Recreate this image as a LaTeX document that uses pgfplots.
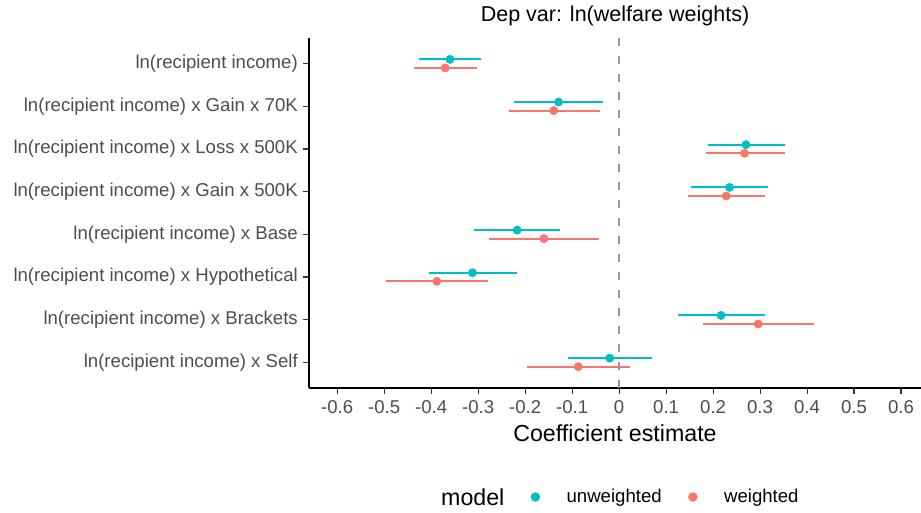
\documentclass[border=0pt]{standalone}
\usepackage{pgfplots}
\pgfplotsset{compat=1.18}
\usepackage{pgfplotstable}
\usepackage{fontspec}
\setmainfont{Liberation Sans}
\definecolor{cU}{HTML}{00BFC4}
\definecolor{cW}{HTML}{F8766D}
\definecolor{tickc}{HTML}{4D4D4D}
\definecolor{axc}{HTML}{333333}
\definecolor{vl}{HTML}{999999}

\pgfplotstableread{
pos est lo hi
8.1 -0.360 -0.426 -0.295
7.1 -0.129 -0.224 -0.034
6.1 0.270 0.189 0.352
5.1 0.235 0.154 0.316
4.1 -0.217 -0.309 -0.125
3.1 -0.312 -0.405 -0.217
2.1 0.217 0.125 0.311
1.1 -0.020 -0.109 0.071
}\unw

\pgfplotstableread{
pos est lo hi
7.9 -0.370 -0.437 -0.302
6.9 -0.139 -0.235 -0.041
5.9 0.267 0.184 0.352
4.9 0.228 0.146 0.311
3.9 -0.160 -0.277 -0.042
2.9 -0.388 -0.496 -0.279
1.9 0.296 0.178 0.414
0.9 -0.087 -0.197 0.023
}\wei

\begin{document}
\begin{tikzpicture}[x=1pt,y=1pt]
\begin{axis}[
  at={(309pt,124pt)}, anchor=south west,
  scale only axis, width=612pt, height=350pt,
  xmin=-0.660, xmax=0.6425, ymin=0.4, ymax=8.6,
  clip=false,
  axis lines=left, axis line style={-, black, line width=1.3pt},
  xtick={-0.6,-0.5,-0.4,-0.3,-0.2,-0.1,0,0.1,0.2,0.3,0.4,0.5,0.6},
  xticklabels={-0.6,-0.5,-0.4,-0.3,-0.2,-0.1,0,0.1,0.2,0.3,0.4,0.5,0.6},
  ytick={1,2,3,4,5,6,7,8},
  yticklabels={{ln(recipient income) x Self},{ln(recipient income) x Brackets},{ln(recipient income) x Hypothetical},{ln(recipient income) x Base},{ln(recipient income) x Gain x 500K},{ln(recipient income) x Loss x 500K},{ln(recipient income) x Gain x 70K},{ln(recipient income)}},
  tick align=outside, major tick length=6pt,
  tick style={axc, line width=1.1pt},
  ticklabel style={font=\fontsize{18.6}{20}\selectfont, text=tickc, inner sep=0pt},
  xticklabel shift=6pt,
  yticklabel shift=5pt,
  title={Dep var: ln(welfare weights)},
  title style={font=\fontsize{21.5}{24}\selectfont, at={(axis description cs:0.5,1)}, anchor=center, yshift=16pt, inner sep=0pt},
  xlabel={Coefficient estimate},
  xlabel style={font=\fontsize{23.2}{26}\selectfont, at={(axis description cs:0.5,0)}, anchor=center, yshift=-45pt, inner sep=0pt},
  legend columns=2,
  legend style={at={(0.3619,-0.3114)}, anchor=west, draw=none, fill=none, inner sep=0pt, column sep=26.5pt, font=\fontsize{18.6}{20}\selectfont, nodes={inner sep=0pt}},
]
\addplot[forget plot, only marks, mark=*, mark size=4.2pt, color=cU,
  error bars/.cd, x dir=both, x explicit, error mark=none,
  error bar style={line width=2pt, color=cU}]
  table[x=est, y=pos, x error plus expr=\thisrow{hi}-\thisrow{est}, x error minus expr=\thisrow{est}-\thisrow{lo}] {\unw};
\addplot[forget plot, only marks, mark=*, mark size=4.2pt, color=cW,
  error bars/.cd, x dir=both, x explicit, error mark=none,
  error bar style={line width=2pt, color=cW}]
  table[x=est, y=pos, x error plus expr=\thisrow{hi}-\thisrow{est}, x error minus expr=\thisrow{est}-\thisrow{lo}] {\wei};
\addplot[forget plot, vl, line width=1.6pt, dash pattern=on 8pt off 10pt] coordinates {(0,0.4) (0,8.6)};
\addlegendimage{cU, legend image code/.code={\fill[cU] (0pt,0pt) circle (4.5pt);}}
\addlegendentry{unweighted}
\addlegendimage{cW, legend image code/.code={\fill[cW] (0pt,0pt) circle (4.5pt);}}
\addlegendentry{weighted}
\end{axis}
\node[anchor=west, inner sep=0pt, font=\fontsize{23.2}{26}\selectfont] at (441,15) {model};
\pgfresetboundingbox
\useasboundingbox (0,0) rectangle (921,512);
\end{tikzpicture}
\end{document}
